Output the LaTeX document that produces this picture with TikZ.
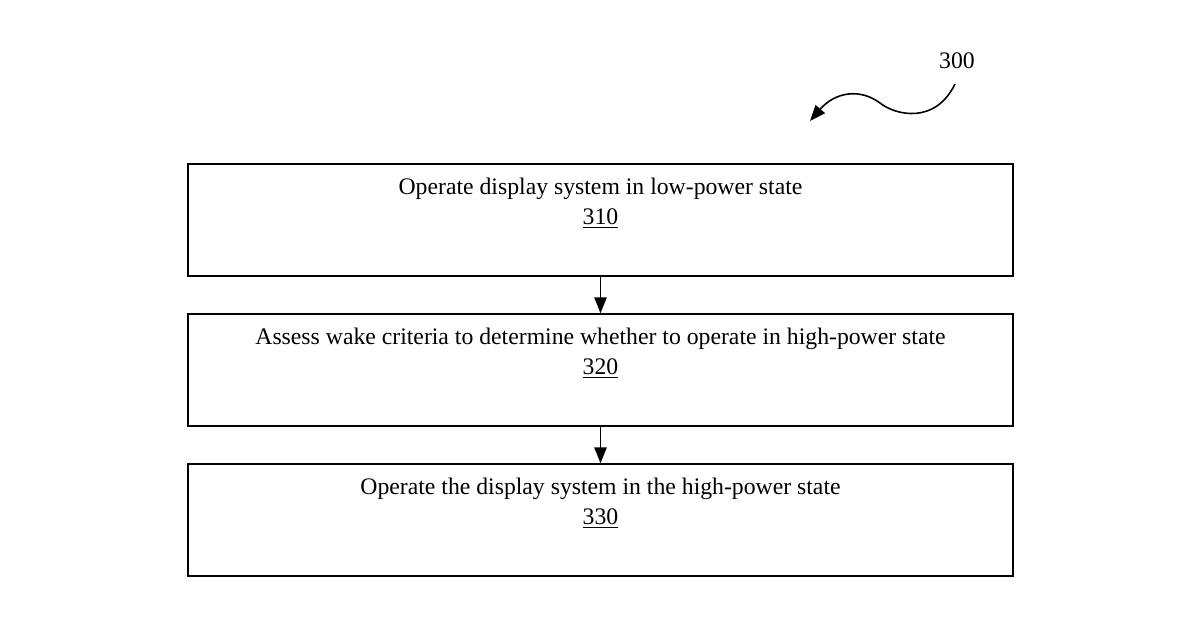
\documentclass[tikz,border=0pt]{standalone}
\usepackage{fontspec}
\setmainfont{Liberation Serif}
\usetikzlibrary{arrows.meta}
\begin{document}
\begin{tikzpicture}[x=0.02cm,y=-0.02cm,
  box/.style={draw,line width=0.9pt,minimum width=825*0.02cm,minimum height=112*0.02cm,inner sep=0pt},
  lbl/.style={font=\fontsize{13.5}{17}\selectfont,align=center},
  arr/.style={line width=0.9pt,-{Triangle[length=9pt,width=7pt]}}]
\useasboundingbox (0,0) rectangle (1200,630);
\node[box] (b1) at (600.5,220) {};
\node[box] (b2) at (600.5,370) {};
\node[box] (b3) at (600.5,520) {};
\node[lbl] (t1) at (600.5,203) {Operate display system in low-power state\\\underline{310}};
\node[lbl] (t2) at (600.5,353) {Assess wake criteria to determine whether to operate in high-power state\\\underline{320}};
\node[lbl] (t3) at (600.5,503) {Operate the display system in the high-power state\\\underline{330}};
\draw[arr] (b1.south) -- (b2.north);
\draw[arr] (b2.south) -- (b3.north);
\node[font=\fontsize{13.5}{17}\selectfont] (n300) at (957,61) {300};
\coordinate (s) at (955,84);
\coordinate (e) at (810,121);
\draw[arr] (s) .. controls (935,125) and (895,115) .. (880,103) .. controls (860,88) and (835,92) .. (e);
\end{tikzpicture}
\end{document}
